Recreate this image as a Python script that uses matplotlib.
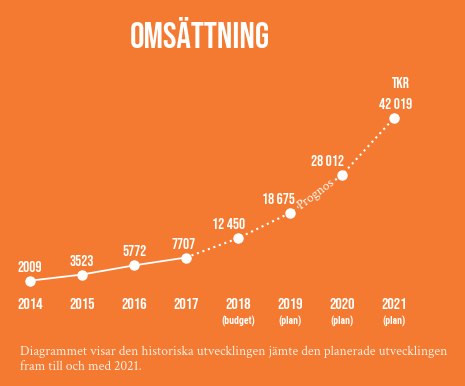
import matplotlib
matplotlib.use('Agg')
import matplotlib.pyplot as plt

# Data
years = [2014, 2015, 2016, 2017, 2018, 2019, 2020, 2021]
values = [2009, 3523, 5772, 7707, 12450, 18675, 28012, 42019]
value_labels = ['2009', '3523', '5772', '7707', '12 450', '18 675', '28 012', '42 019']
sub_labels = ['', '', '', '', '(budget)', '(plan)', '(plan)', '(plan)']
n_actual = 4  # 2014-2017 are historical, rest forecast

# label nudges in pixels (labels sit left of the point on the rising part)
label_dx = [0, 0, 0, -2, -9, -12, -15, 2]

orange = '#F37A30'
bebas = ['Bebas Neue', 'DejaVu Sans']
cond = ['Roboto Condensed', 'DejaVu Sans']
serif = ['Crimson Text', 'Liberation Serif', 'DejaVu Serif']

fig = plt.figure(figsize=(4.65, 3.86), dpi=100, facecolor=orange)
ax = fig.add_axes([0, 0, 1, 1])
ax.set_facecolor(orange)
ax.set_xlim(2013.423, 2022.365)
ax.set_ylim(-23889, 71045)
ax.axis('off')

# historical solid line, forecast dotted line
ax.plot(years[:n_actual], values[:n_actual], color='white', lw=1.3, zorder=2)
ax.plot(years[n_actual - 1:], values[n_actual - 1:], color='white', lw=1.5,
        linestyle=(0, (1, 1.8)), zorder=2)
ax.plot(years, values, 'o', color='white', ms=6.5, zorder=4)

for yr, v, lab, dx in zip(years, values, value_labels, label_dx):
    ax.annotate(lab, (yr, v), xytext=(dx, 9), textcoords='offset pixels',
                ha='center', va='bottom', color='white', fontsize=11,
                family=bebas)

# year ticks below
for yr, sub in zip(years, sub_labels):
    ax.text(yr, 0.215, str(yr), transform=ax.get_xaxis_transform(),
            ha='center', va='center', color='white', fontsize=11.5,
            family=bebas)
    if sub:
        ax.text(yr, 0.168, sub, transform=ax.get_xaxis_transform(),
                ha='center', va='center', color='white', fontsize=7,
                fontweight='bold', family=cond)

# "Prognos" label along the forecast line
px = (years[5] + years[6]) / 2
py = (values[5] + values[6]) / 2
ax.text(px, py, 'Prognos', rotation=37, ha='center', va='center',
        color='white', fontsize=9.5, family=serif, zorder=3,
        bbox=dict(facecolor=orange, edgecolor='none', pad=0.3))

ax.text(0.862, 0.787, 'TKR', transform=ax.transAxes, ha='center', va='center',
        color='white', fontsize=11, family=bebas)

fig.text(0.43, 0.915, 'OMSÄTTNING', ha='center', va='center', color='white',
         fontsize=26, family=bebas)

fig.text(0.043, 0.069,
         'Diagrammet visar den historiska utvecklingen jämte den planerade utvecklingen\n'
         'fram till och med 2021.',
         ha='left', va='center', color='#FDEEE4', fontsize=9.8, family=serif,
         linespacing=1.25)

fig.savefig('out.png', dpi=100, facecolor=orange)
